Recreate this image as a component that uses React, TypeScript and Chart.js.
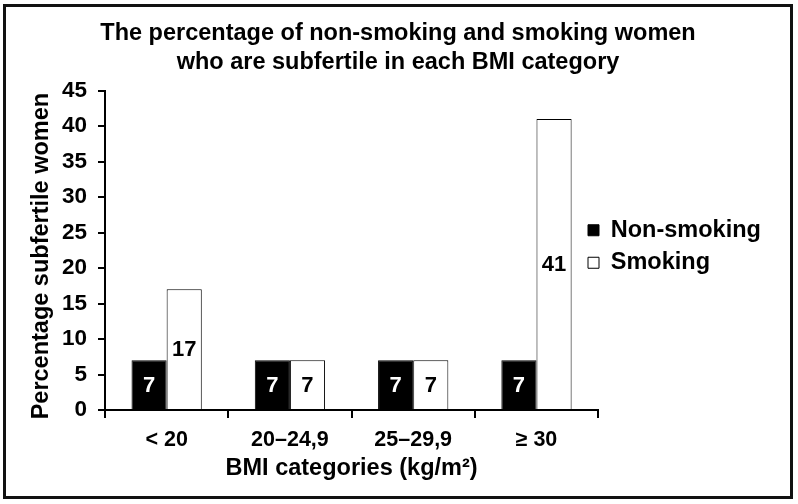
import React, { useEffect, useRef } from 'react';
import { Chart, registerables } from 'chart.js';

Chart.register(...registerables);

// ---- data ----
const categories = ['< 20', '20–24,9', '25–29,9', '≥ 30'];
const nonSmoking = [7, 7, 7, 7];
const smoking = [17, 7, 7, 41];
const seriesNames = ['Non-smoking', 'Smoking'];
const yMin = 0;
const yMax = 45;
const yStep = 5;
const titleLines = [
  'The percentage of non-smoking and smoking women',
  'who are subfertile in each BMI category',
];
const xTitle = 'BMI categories (kg/m²)';
const yTitle = 'Percentage subfertile women\u2002';

const FONT = '"Liberation Sans", Arial, Helvetica, sans-serif';

const framePlugin = {
  id: 'frame',
  beforeDraw(chart: any) {
    const ctx = chart.ctx;
    ctx.save();
    ctx.fillStyle = '#ffffff';
    ctx.fillRect(0, 0, chart.width, chart.height);
    ctx.restore();
  },
  afterDraw(chart: any) {
    const ctx = chart.ctx;
    ctx.save();
    ctx.strokeStyle = '#111111';
    ctx.lineWidth = 3;
    ctx.strokeRect(4.5, 5.5, chart.width - 11, chart.height - 12);
    ctx.restore();
  },
};

const valueLabelPlugin = {
  id: 'valueLabels',
  afterDatasetsDraw(chart: any) {
    const ctx = chart.ctx;
    ctx.save();
    ctx.font = `bold 22px ${FONT}`;
    ctx.textAlign = 'center';
    ctx.textBaseline = 'middle';
    chart.data.datasets.forEach((ds: any, i: number) => {
      const meta = chart.getDatasetMeta(i);
      ctx.fillStyle = i === 0 ? '#ffffff' : '#000000';
      meta.data.forEach((bar: any, j: number) => {
        const p = bar.getProps(['x', 'y', 'base'], true);
        ctx.fillText(String(ds.data[j]), p.x, (p.y + p.base) / 2 + 1);
      });
    });
    ctx.restore();
  },
};

const LEGEND_BOX_X = 588;
const LEGEND_FIRST_ROW_TOP = 218.5;

const legendPlacePlugin = {
  id: 'legendPlace',
  afterLayout(chart: any) {
    const lg: any = chart.legend;
    if (!lg || !lg.columnSizes || !lg.columnSizes.length) return;
    const pad = lg.options.labels.padding;
    const w = lg.width;
    const curStart = (lg.top + pad + lg.bottom - lg.columnSizes[0].height) / 2;
    const dy = LEGEND_FIRST_ROW_TOP - curStart;
    lg.top += dy;
    lg.bottom += dy;
    lg.left = LEGEND_BOX_X - pad;
    lg.right = lg.left + w;
  },
};

export default function App() {
  const canvasRef = useRef<HTMLCanvasElement | null>(null);

  useEffect(() => {
    if (!canvasRef.current) return;
    const chart = new Chart(canvasRef.current, {
      type: 'bar',
      data: {
        labels: categories,
        datasets: [
          {
            label: seriesNames[0],
            data: nonSmoking,
            backgroundColor: '#000000',
            borderColor: '#000000',
            borderWidth: 1,
          },
          {
            label: seriesNames[1],
            data: smoking,
            backgroundColor: '#ffffff',
            borderColor: '#000000',
            borderWidth: 1,
          },
        ],
      },
      options: {
        animation: false,
        responsive: true,
        maintainAspectRatio: false,
        devicePixelRatio: 1,
        layout: { padding: { left: 6, right: 8, top: 6, bottom: 10 } },
        datasets: {
          bar: { categoryPercentage: 0.57, barPercentage: 1 },
        },
        plugins: {
          title: {
            display: true,
            text: titleLines,
            color: '#000000',
            font: { family: FONT, size: 23.5, weight: 'bold', lineHeight: 1.25 },
            padding: { top: 12.8, bottom: 12.95 },
          },
          legend: {
            display: true,
            position: 'right',
            align: 'center',
            labels: {
              color: '#000000',
              boxWidth: 11,
              boxHeight: 11,
              padding: 9,
              font: { family: FONT, size: 23.5, weight: 'bold' },
            },
          },
          tooltip: { enabled: false },
        },
        scales: {
          x: {
            type: 'category',
            offset: true,
            afterFit(scale: any) {
              scale.height = 84;
            },
            border: { display: true, color: '#000000', width: 2 },
            grid: {
              offset: true,
              drawOnChartArea: false,
              drawTicks: true,
              tickLength: 8,
              color: '#000000',
              lineWidth: 2,
            },
            ticks: {
              color: '#000000',
              font: { family: FONT, size: 21.5, weight: 'bold' },
              padding: 9,
              autoSkip: false,
              maxRotation: 0,
            },
            title: {
              display: true,
              text: xTitle,
              color: '#000000',
              font: { family: FONT, size: 23.5, weight: 'bold' },
              padding: { top: 0, bottom: 11 },
            },
          },
          y: {
            min: yMin,
            max: yMax,
            afterFit(scale: any) {
              scale.width = 99;
            },
            border: { display: true, color: '#000000', width: 2 },
            grid: {
              drawOnChartArea: false,
              drawTicks: true,
              tickLength: 7,
              color: '#000000',
              lineWidth: 2,
            },
            ticks: {
              stepSize: yStep,
              color: '#000000',
              font: { family: FONT, size: 22.5, weight: 'bold' },
              padding: 11,
            },
            title: {
              display: true,
              text: yTitle,
              color: '#000000',
              font: { family: FONT, size: 23.5, weight: 'bold' },
              padding: { top: 21, bottom: 0 },
            },
          },
        },
      },
      plugins: [framePlugin, valueLabelPlugin, legendPlacePlugin],
    } as any);
    return () => chart.destroy();
  }, []);

  return (
    <div style={{ position: 'absolute', left: 0, top: 0, width: 798, height: 504 }}>
      <canvas ref={canvasRef} />
    </div>
  );
}
